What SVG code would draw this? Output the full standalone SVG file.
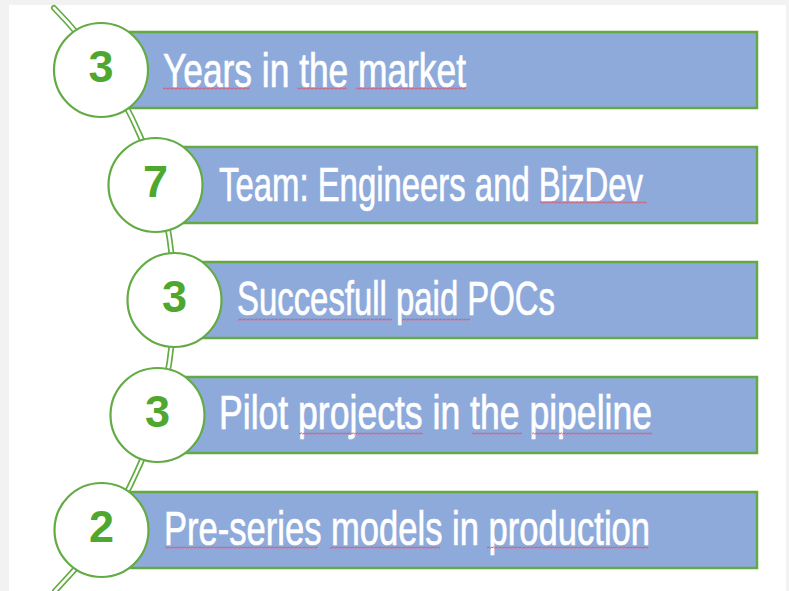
<svg xmlns="http://www.w3.org/2000/svg" width="789" height="591" viewBox="0 0 789 591">
  <style>
    .bar { fill: #8eaadb; stroke: #63a944; stroke-width: 2.5; }
    .badge { fill: #ffffff; stroke: #63ab44; stroke-width: 2.2; }
    .num { font-family: "Liberation Sans", Arial, sans-serif; font-weight: bold; font-size: 45px; fill: #4ea72e; text-anchor: middle; }
    .label { font-family: "Liberation Sans", Arial, sans-serif; font-size: 48px; fill: #ffffff; stroke: #ffffff; stroke-width: 0.7; }
    .spell { fill: url(#squiggle); }
  </style>
  <defs>
    <pattern id="squiggle" x="0" y="0" width="4" height="3" patternUnits="userSpaceOnUse">
      <path d="M0,2.4 L1,0.6 L3,2.4 L4,0.6" fill="none" stroke="#e0506a" stroke-width="0.8"/>
    </pattern>
  </defs>

  <!-- page background -->
  <rect x="0" y="0" width="789" height="591" fill="#f2f2f2"/>
  <rect x="9" y="5" width="777" height="586" fill="#ffffff"/>

  <!-- connectors: curved double-line spine through all badges -->
  <g id="connectors">
    <path d="M 54 8 A 415.3 415.3 0 0 1 55 591" fill="none" stroke="#63ab44" stroke-width="6" stroke-linecap="round"/>
    <path d="M 54 8 A 415.3 415.3 0 0 1 55 591" fill="none" stroke="#ffffff" stroke-width="2.6" stroke-linecap="round"/>
  </g>

  <!-- labels use a condensed look: horizontal scale 0.72, width fitted with textLength -->
  <g id="item-years">
    <rect class="bar" x="101" y="32" width="656" height="76"/>
    <circle class="badge" cx="101" cy="70" r="47"/>
    <text class="num" x="101" y="82">3</text>
    <text class="label" transform="translate(163,87) scale(0.72,1)" textLength="420.8" lengthAdjust="spacingAndGlyphs">Years in the market</text>
    <rect class="spell" x="163" y="87" width="87" height="3"/>
    <rect class="spell" x="297" y="87" width="50" height="3"/>
    <rect class="spell" x="356" y="87" width="110" height="3"/>
  </g>

  <g id="item-team">
    <rect class="bar" x="155" y="147" width="602" height="76"/>
    <circle class="badge" cx="155.5" cy="185" r="47"/>
    <text class="num" x="155.5" y="197">7</text>
    <text class="label" transform="translate(219,201) scale(0.72,1)" textLength="588.9" lengthAdjust="spacingAndGlyphs">Team: Engineers and BizDev</text>
    <rect class="spell" x="540" y="201" width="107" height="3"/>
  </g>

  <g id="item-pocs">
    <rect class="bar" x="174" y="262" width="583" height="76"/>
    <circle class="badge" cx="174.5" cy="300" r="47"/>
    <text class="num" x="174.5" y="312">3</text>
    <text class="label" transform="translate(237,315) scale(0.72,1)" textLength="441.7" lengthAdjust="spacingAndGlyphs">Succesfull paid POCs</text>
    <rect class="spell" x="238" y="318" width="154" height="3"/>
    <rect class="spell" x="402" y="318" width="68" height="3"/>
  </g>

  <g id="item-pilots">
    <rect class="bar" x="157" y="377" width="600" height="76"/>
    <circle class="badge" cx="157.5" cy="415" r="47"/>
    <text class="num" x="157.5" y="427">3</text>
    <text class="label" transform="translate(219,429) scale(0.72,1)" textLength="601.4" lengthAdjust="spacingAndGlyphs">Pilot projects in the pipeline</text>
    <rect class="spell" x="299" y="432" width="124" height="3"/>
    <rect class="spell" x="472" y="432" width="50" height="3"/>
    <rect class="spell" x="532" y="432" width="120" height="3"/>
  </g>

  <g id="item-preseries">
    <rect class="bar" x="101" y="492" width="656" height="76"/>
    <circle class="badge" cx="101.5" cy="530" r="47"/>
    <text class="num" x="101.5" y="542">2</text>
    <text class="label" transform="translate(164,545) scale(0.72,1)" textLength="675" lengthAdjust="spacingAndGlyphs">Pre-series models in production</text>
    <rect class="spell" x="165" y="546" width="153" height="3"/>
    <rect class="spell" x="330" y="546" width="110" height="3"/>
    <rect class="spell" x="487" y="546" width="161" height="3"/>
  </g>
</svg>
